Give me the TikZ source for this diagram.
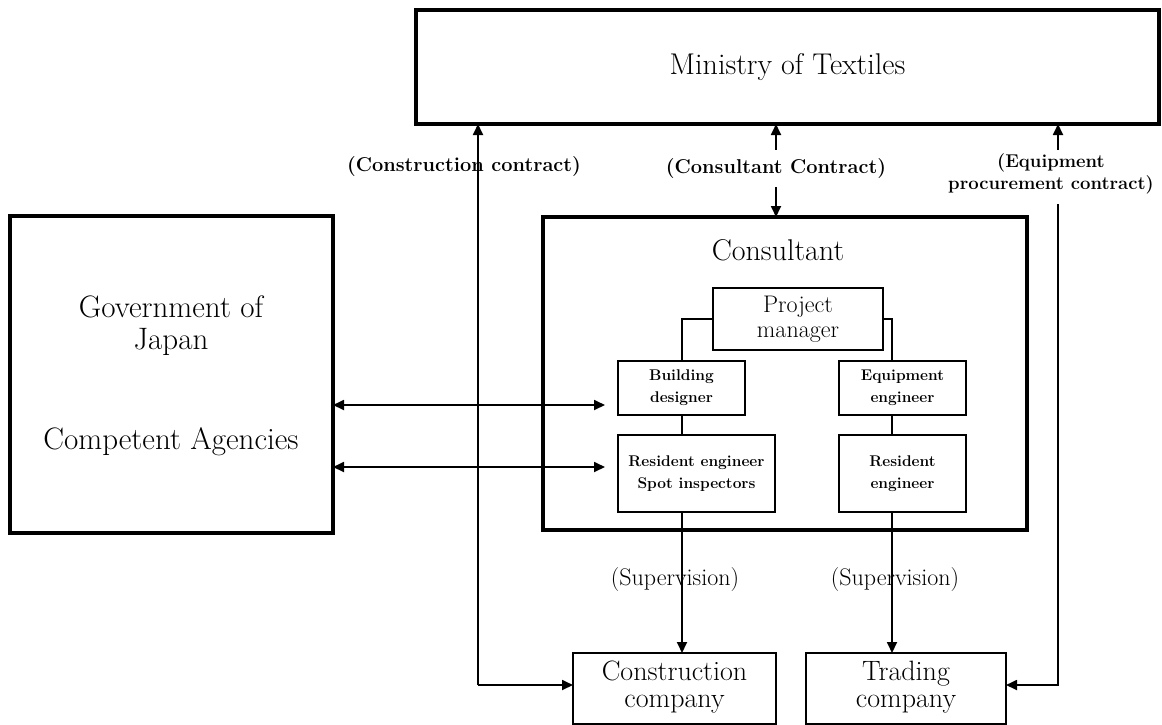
\documentclass[tikz,border=0pt]{standalone}
\usetikzlibrary{arrows.meta}
\begin{document}
\begin{tikzpicture}[x=1pt,y=-1pt,
  bigbox/.style={draw, line width=3.5pt, rectangle, inner sep=0pt, outer sep=0pt},
  smallbox/.style={draw, line width=1.8pt, rectangle, inner sep=0pt, outer sep=0pt, align=center},
  conn/.style={line width=1.8pt},
  arr/.style={conn, -{Triangle[length=11pt,width=10pt]}},
  darr/.style={conn, {Triangle[length=11pt,width=10pt]}-{Triangle[length=11pt,width=10pt]}},
  lbl/.style={inner sep=0pt, align=center},
  fbig/.style={font=\fontsize{30}{32}\selectfont},
  fgov/.style={font=\fontsize{31}{32}\selectfont},
  fco/.style={font=\fontsize{28}{27}\selectfont},
  fpm/.style={font=\fontsize{24}{25}\selectfont},
  fsmall/.style={font=\fontsize{15.5}{22}\selectfont\bfseries},
  fcontract/.style={font=\fontsize{20}{22}\selectfont\bfseries},
  fequip/.style={font=\fontsize{18.5}{22}\selectfont\bfseries},
  fsup/.style={font=\fontsize{24}{24}\selectfont}
]
\useasboundingbox (0,0) rectangle (1162,724);
\clip (0,0) rectangle (1162,724);

% main boxes
\node[bigbox, minimum width=743pt, minimum height=114pt, fbig] (min) at (787.5,67) {Ministry of Textiles};
\node[bigbox, minimum width=323pt, minimum height=317pt] (gov) at (171.5,374.5) {};
\node[lbl, fgov] (govt) at (171,326) {Government of\\Japan};
\node[lbl, fgov] (comp) at (171,442) {Competent Agencies};
\node[bigbox, minimum width=484pt, minimum height=313pt] (cons) at (785,373.5) {};
\node[lbl, fbig] (const) at (778,250) {Consultant};

% inner boxes
\node[smallbox, minimum width=170pt, minimum height=62pt, fpm] (pm) at (798,319) {Project\\manager};
\node[smallbox, minimum width=127pt, minimum height=54pt, fsmall] (bd) at (681.5,388) {Building\\designer};
\node[smallbox, minimum width=127pt, minimum height=54pt, fsmall] (ee) at (902.5,388) {Equipment\\engineer};
\node[smallbox, minimum width=157pt, minimum height=77pt, fsmall] (re1) at (696.5,473.5) {Resident engineer\\Spot inspectors};
\node[smallbox, minimum width=127pt, minimum height=77pt, fsmall] (re2) at (902.5,473.5) {Resident\\engineer};

% bottom boxes
\node[smallbox, line width=2pt, minimum width=203pt, minimum height=71pt] (cc) at (674.5,688.5) {};
\node[lbl, fco] (cct) at (674.5,687) {Construction\\company};
\node[smallbox, line width=2pt, minimum width=200pt, minimum height=71pt] (tc) at (906,688.5) {};
\node[lbl, fco] (tct) at (906,687) {Trading\\company};

% labels
\node[lbl, fcontract] (ccl) at (464,167) {(Construction contract)};
\node[lbl, fcontract] (csl) at (776,169) {(Consultant Contract)};
\node[lbl, fequip] (epl) at (1051,174) {(Equipment\\procurement contract)};
\node[lbl, fsup] (sv1) at (675,580) {(Supervision)};
\node[lbl, fsup] (sv2) at (895,580) {(Supervision)};

% coordinates
\coordinate (cj) at (478,685);
\coordinate (ej) at (1058,685);
\coordinate (eup) at (1058,150);
\coordinate (etop) at (1058,204);
\coordinate (s1) at (682,0);
\coordinate (s2) at (892,0);
\coordinate (l1) at (0,405);
\coordinate (l2) at (0,467);

% construction contract
\draw[arr] (cj) -- (cj |- min.south);
\draw[arr] (cj) -- (cc.west |- cj);
% consultant contract
\draw[arr] ([yshift=9pt]csl.north) -- (csl.north |- min.south);
\draw[arr] ([yshift=-8pt]csl.south) -- (csl.south |- cons.north);
% equipment contract
\draw[arr] (eup) -- (eup |- min.south);
\draw[arr] (etop) -- (ej) -- (tc.east |- ej);

% org chart
\draw[conn] (pm.west) -| (s1 |- bd.north);
\draw[conn] (pm.east) -| (s2 |- ee.north);
\draw[conn] (s1 |- bd.south) -- (s1 |- re1.north);
\draw[conn] (s2 |- ee.south) -- (s2 |- re2.north);

% government links
\draw[darr, shorten >=13pt] (gov.east |- l1) -- (bd.west |- l1);
\draw[darr, shorten >=13pt] (gov.east |- l2) -- (re1.west |- l2);

% supervision
\draw[arr] (s1 |- re1.south) -- (s1 |- cc.north);
\draw[arr] (s2 |- re2.south) -- (s2 |- tc.north);
\end{tikzpicture}
\end{document}
